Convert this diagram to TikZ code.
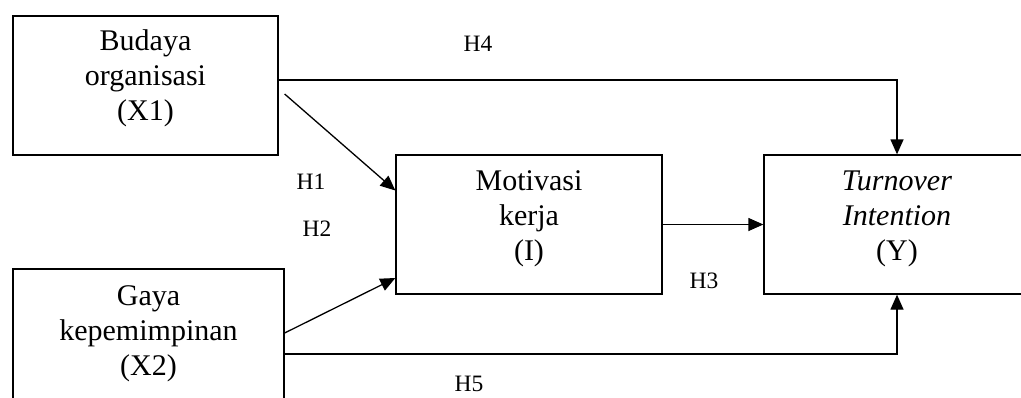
\documentclass[tikz,border=0pt]{standalone}
\usepackage{fontspec}
\setmainfont{Liberation Serif}
\usetikzlibrary{arrows.meta}
\begin{document}
\begin{tikzpicture}[x=1pt,y=-1pt,
  box/.style={draw,line width=1.3pt,rectangle,inner sep=0pt,minimum height=139pt},
  boxtext/.style={align=center,inner sep=0pt,font=\fontsize{30}{35}\selectfont},
  hlabel/.style={inner sep=0pt,font=\fontsize{23.5}{26}\selectfont},
  conn/.style={line width=1.3pt,-{Triangle[length=15pt,width=13pt]}}]
\useasboundingbox (0,0) rectangle (1021,397);
\node[box,minimum width=265pt] (X1) at (145.5,85.5) {};
\node[box,minimum width=271pt] (X2) at (148.5,338.5) {};
\node[box,minimum width=266pt] (M) at (529,224.5) {};
\node[box,minimum width=266pt] (Y) at (897,224.5) {};
\node[boxtext] (tX1) at (145.5,78) {Budaya\\organisasi\\(X1)};
\node[boxtext] (tX2) at (148.5,334) {Gaya\\kepemimpinan\\(X2)};
\node[boxtext] (tM) at (529,219) {Motivasi\\kerja\\(I)};
\node[boxtext] (tY) at (897,219) {\textit{Turnover}\\\textit{Intention}\\(Y)};
\draw[conn] ([yshift=5.5pt]X1.east) -| (Y.north);
\draw[conn] ([xshift=6pt,yshift=-8.5pt]X1.east) -- ([yshift=34pt]M.west);
\draw[conn] ([yshift=5.5pt]X2.east) -- ([yshift=-53.5pt]M.west);
\draw[conn] (M.east) -- (Y.west);
\draw[conn] ([yshift=-15.5pt]X2.east) -| (Y.south);
\node[hlabel] (h4) at (478,43.5) {H4};
\node[hlabel] (h1) at (311,182) {H1};
\node[hlabel] (h2) at (317,229) {H2};
\node[hlabel] (h3) at (704,281) {H3};
\node[hlabel] (h5) at (469,384) {H5};
\end{tikzpicture}
\end{document}
